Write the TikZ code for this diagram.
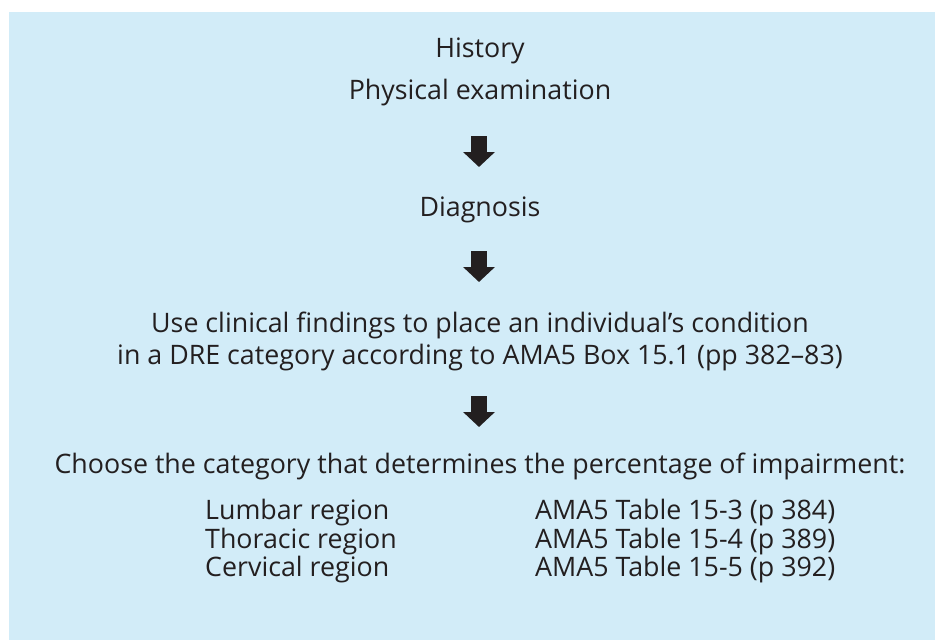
\documentclass[tikz,border=0pt]{standalone}
\usepackage{fontspec}
\setmainfont{Open Sans}
\usetikzlibrary{arrows.meta}
\definecolor{boxblue}{HTML}{D2ECF8}
\definecolor{ink}{HTML}{231F20}
\begin{document}
\begin{tikzpicture}[x=1pt,y=-1pt,
  txt/.style={inner sep=0pt,text=ink,font=\fontsize{26.8}{32}\selectfont},
  lft/.style={txt,anchor=west},
  blockarrow/.style={draw=ink,line width=16pt,-{Triangle[width=31pt,length=15pt]}}]
\useasboundingbox (0,0) rectangle (935,640);
\fill[boxblue] (9,12) rectangle (935,640);
\node[txt] (hist) at (480,51) {History};
\node[txt] (phys) at (480,93) {Physical examination};
\coordinate (a1s) at (479,136);
\coordinate (a1e) at (479,167);
\draw[blockarrow] (a1s) -- (a1e);
\node[txt] (diag) at (480,210) {Diagnosis};
\coordinate (a2s) at (479,251);
\coordinate (a2e) at (479,282);
\draw[blockarrow] (a2s) -- (a2e);
\node[txt,align=center] (use) at (480,341) {Use clinical findings to place an individual’s condition\\in a DRE category according to AMA5 Box 15.1 (pp 382–83)};
\coordinate (a3s) at (479,396);
\coordinate (a3e) at (479,427);
\draw[blockarrow] (a3s) -- (a3e);
\node[txt] (choose) at (480,466) {Choose the category that determines the percentage of impairment:};
\node[lft] (lum) at (205,513) {Lumbar region};
\node[lft] (tho) at (205,542) {Thoracic region};
\node[lft] (cer) at (205,570) {Cervical region};
\node[lft] (lumt) at (535,513) {AMA5 Table 15-3 (p 384)};
\node[lft] (thot) at (535,542) {AMA5 Table 15-4 (p 389)};
\node[lft] (cert) at (535,570) {AMA5 Table 15-5 (p 392)};
\end{tikzpicture}
\end{document}
